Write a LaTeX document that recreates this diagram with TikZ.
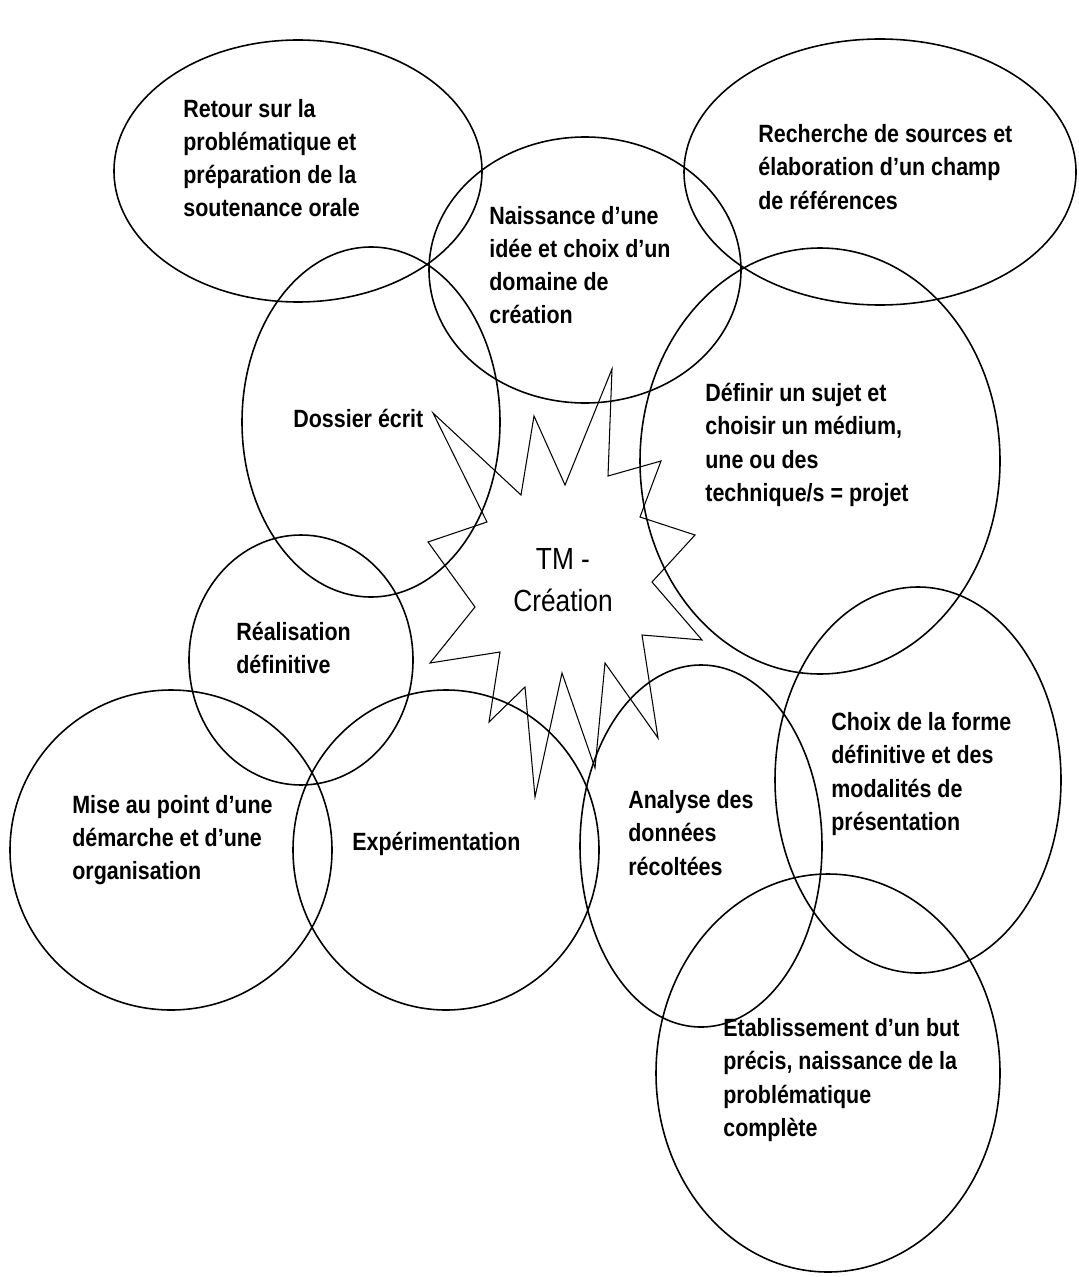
\documentclass[tikz,border=0pt]{standalone}
\usepackage{fontspec}
\setmainfont{Liberation Sans}[FakeStretch=0.86]
\tikzset{
  bubble/.style={line width=0.9pt},
  burst/.style={line width=0.6pt, line join=miter},
  stage/.style={anchor=west, align=left, inner sep=0pt,
    font=\fontsize{14.2}{18.9}\selectfont\bfseries},
  hub/.style={align=center, inner sep=0pt,
    font=\fontsize{17.4}{23.8}\selectfont}
}
\begin{document}
\begin{tikzpicture}[x=0.02cm, y=-0.02cm]
  \useasboundingbox (0,0) rectangle (1078,1277);

  % Ellipses, one per stage (centre x/y, radii)
  \foreach \cx/\cy/\rx/\ry in {298/171/184/131, 585/270/156/133, 880/172/196/133,
      371/422/129/175, 820/461/180/213, 301/660/112/125, 171/850/161/160,
      446/850/153/160, 701/846/121/181, 918/780/143/193, 828/1073/172/199} {
    \draw[bubble] (\cx,\cy) ellipse [x radius=\rx, y radius=\ry];
  }

  % Star in the middle
  \draw[burst] (612,369) -- (608,476) -- (661,461) -- (640,517) -- (695,535)
    -- (652,582) -- (702,640) -- (642,635) -- (658,738) -- (605,663)
    -- (595,768) -- (562,673) -- (535,797) -- (525,687) -- (489,722)
    -- (500,652) -- (430,663) -- (475,607) -- (428,542) -- (487,522)
    -- (433,413) -- (521,495) -- (534,416) -- (565,485) -- cycle;
  \node[hub] (tm) at (563,580) {TM -\\Création};

  % Labels
  \node[stage] (retour) at (183,158) {Retour sur la\\problématique et\\préparation de la\\soutenance orale};
  \node[stage] (idee) at (489,265) {Naissance d’une\\idée et choix d’un\\domaine de\\création};
  \node[stage] (sources) at (758,167) {Recherche de sources et\\élaboration d’un champ\\de références};
  \node[stage] (dossier) at (293,418) {Dossier écrit};
  \node[stage] (sujet) at (705,445) {Définir un sujet et\\choisir un médium,\\une ou des\\technique/s = projet};
  \node[stage] (realisation) at (236,648) {Réalisation\\définitive};
  \node[stage] (demarche) at (72,840) {Mise au point d’une\\démarche et d’une\\organisation};
  \node[stage] (experim) at (352,844) {Expérimentation};
  \node[stage] (analyse) at (628,833) {Analyse des\\données\\récoltées};
  \node[stage] (forme) at (831,774) {Choix de la forme\\définitive et des\\modalités de\\présentation};
  \node[stage] (but) at (723,1080) {Etablissement d’un but\\précis, naissance de la\\problématique\\complète};
\end{tikzpicture}
\end{document}
